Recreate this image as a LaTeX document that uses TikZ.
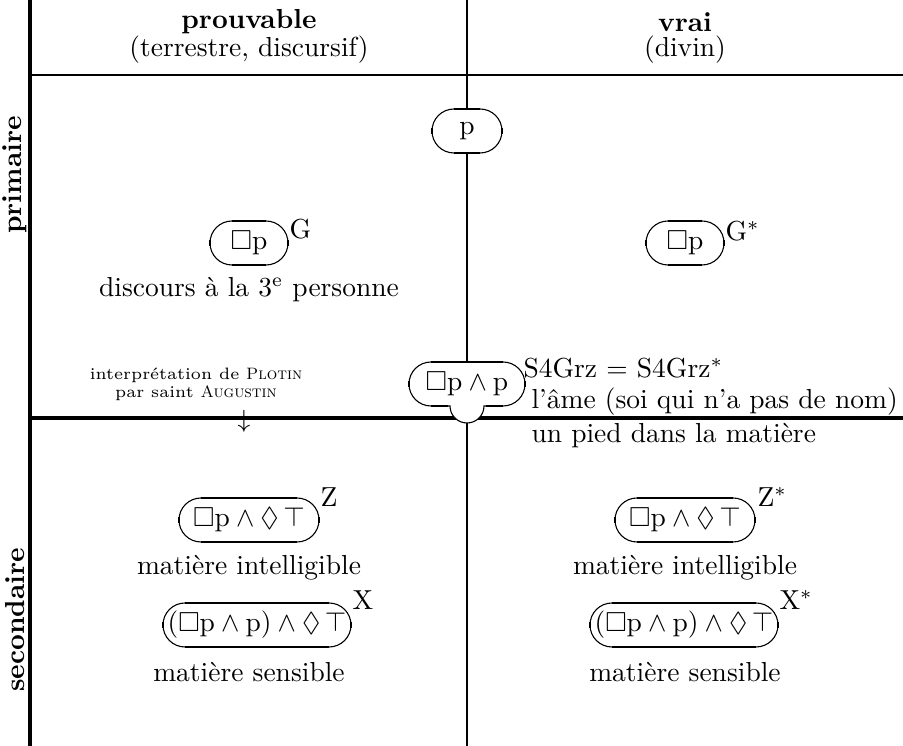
\documentclass[tikz,border=0pt]{standalone}
\usepackage{amssymb}
\newcommand\capsule[5]{%
  \begin{scope}[shift={(#2,#3)}]
    \filldraw[fill=white,capthin] (-#4,-22) -- (#4,-22) arc(-90:90:22) -- (-#4,22) arc(90:270:22) -- cycle;
    \draw[capthick] (-#4,-22) -- (#4,-22) (-#4,22) -- (#4,22);
    \draw[capthick] (#4+22,-3) -- (#4+22,3) (-#4-22,-3) -- (-#4-22,3);
  \end{scope}
  \node[inner sep=0pt] (#1) at (#2,#3) {#5};
}
\begin{document}
\begin{tikzpicture}[x=0.3636pt,y=-0.3636pt,
  capthin/.style={line width=0.4pt},
  capthick/.style={line width=0.8pt},
  lbl/.style={inner sep=0pt},
  smalllbl/.style={inner sep=0pt,font=\fontsize{6}{7}\selectfont},
  sup/.style={inner sep=0pt,anchor=west}]
\useasboundingbox (0,0) rectangle (903,746);
% grid
\draw[line width=1.1pt] (30,0) -- (30,746);
\draw[line width=0.75pt] (467,0) -- (467,746);
\draw[line width=0.75pt] (30,75) -- (903,75);
\draw[line width=1.1pt] (30,418) -- (903,418);
% headers
\node[lbl] (h1) at (249,22) {\textbf{prouvable}};
\node[lbl] (h1b) at (249,50) {(terrestre, discursif)};
\node[lbl] (h2) at (685,22) {\textbf{vrai}};
\node[lbl] (h2b) at (685,50) {(divin)};
\node[lbl,rotate=90] (r1) at (15,175) {\textbf{primaire}};
\node[lbl,rotate=90] (r2) at (15,620) {\textbf{secondaire}};
% p
\capsule{p}{467}{131}{13}{$\mathrm{p}$}
% Box p
\capsule{bpl}{249}{243}{17}{$\Box\mathrm{p}$}
\node[sup] (gl) at (289,229) {G};
\capsule{bpr}{685}{243}{17}{$\Box\mathrm{p}$}
\node[sup] (gr) at (725,231) {G$^*$};
\node[lbl] (disc) at (249,290) {discours à la 3\textsuperscript{e} personne};
% S4Grz
\begin{scope}[shift={(467,384)}]
  \filldraw[fill=white,capthin] (-36,-22) -- (36,-22) arc(-90:90:22) -- (17,22) arc(0:180:17) -- (-36,22) arc(90:270:22) -- cycle;
  \draw[capthick] (-36,-22) -- (36,-22) (-36,22) -- (-19,22) (19,22) -- (36,22);
  \draw[capthick] (58,-3) -- (58,3) (-58,-3) -- (-58,3);
\end{scope}
\node[inner sep=0pt] (s4) at (467,384) {$\Box\mathrm{p}\wedge\mathrm{p}$};
\node[lbl,anchor=west] (s4a) at (523,368) {S4Grz $=$ S4Grz$^*$};
\node[lbl,anchor=west] (s4b) at (531,402) {l'âme (soi qui n'a pas de nom)};
\node[lbl,anchor=west] (s4c) at (531,436) {un pied dans la matière};
\node[smalllbl] (pl1) at (196,375) {interprétation de \textsc{Plotin}};
\node[smalllbl] (pl2) at (196,393) {par saint \textsc{Augustin}};
\node[lbl,font=\small] (arr) at (244,421) {$\downarrow$};
% Z
\capsule{zl}{249}{520}{48}{$\Box\mathrm{p}\wedge\Diamond\,\top$}
\node[sup] (zls) at (320,497) {Z};
\capsule{zr}{685}{520}{48}{$\Box\mathrm{p}\wedge\Diamond\,\top$}
\node[sup] (zrs) at (757,497) {Z$^*$};
\node[lbl] (mil) at (249,568) {matière intelligible};
\node[lbl] (mir) at (685,568) {matière intelligible};
% X
\capsule{xl}{257}{625}{72}{$(\Box\mathrm{p}\wedge\mathrm{p})\wedge\Diamond\,\top$}
\node[sup] (xls) at (352,600) {X};
\capsule{xr}{684}{625}{72}{$(\Box\mathrm{p}\wedge\mathrm{p})\wedge\Diamond\,\top$}
\node[sup] (xrs) at (779,600) {X$^*$};
\node[lbl] (msl) at (249,672) {matière sensible};
\node[lbl] (msr) at (685,672) {matière sensible};
\end{tikzpicture}
\end{document}
